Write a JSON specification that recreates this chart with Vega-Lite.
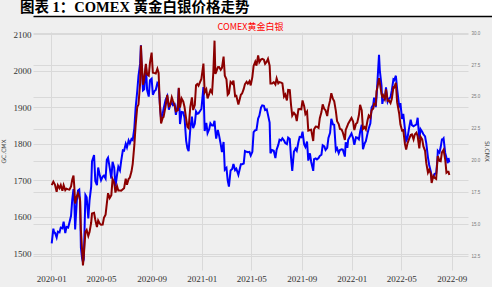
{
  "$schema": "https://vega.github.io/schema/vega-lite/v6.json",
  "background": "#efefef",
  "padding": {"left": 0, "top": 0, "right": 0, "bottom": 4},
  "spacing": 7,
  "columns": 1,
  "align": "none",
  "bounds": "full",
  "config": {"view": {"stroke": null}},
  "concat": [
    {
      "width": 492,
      "height": 16,
      "view": {"fill": "white", "stroke": null},
      "data": {"values": [{"label": "图表 1：COMEX 黄金白银价格走势"}]},
      "mark": {"type": "text", "align": "left", "baseline": "middle", "dx": -13, "font": "Liberation Serif, Noto Sans CJK SC", "fontSize": 14.5, "fontWeight": "bold", "color": "#000000"},
      "encoding": {
        "x": {"datum": 0, "type": "quantitative", "scale": {"domain": [0, 1]}, "axis": {"orient": "bottom", "domain": true, "domainColor": "#000000", "domainWidth": 1.5, "ticks": false, "labels": false, "grid": false, "title": null}},
        "text": {"field": "label"}
      }
    },
    {
      "width": 435,
      "height": 238,
      "title": {"text": "COMEX黄金白银", "color": "#ff0000", "fontSize": 9, "font": "Noto Sans CJK SC", "fontWeight": "normal", "anchor": "middle", "offset": -2, "frame": "group"},
      "data": {"values": [
        {"date":"2020-01-02","gold":1528,"silver":18.07},
        {"date":"2020-01-06","gold":1568,"silver":18.35},
        {"date":"2020-01-08","gold":1557,"silver":18.23},
        {"date":"2020-01-10","gold":1557,"silver":18.10},
        {"date":"2020-01-14","gold":1544,"silver":17.55},
        {"date":"2020-01-17","gold":1560,"silver":18.07},
        {"date":"2020-01-21","gold":1558,"silver":17.84},
        {"date":"2020-01-24","gold":1571,"silver":18.08},
        {"date":"2020-01-28","gold":1569,"silver":17.63},
        {"date":"2020-01-31","gold":1587,"silver":18.07},
        {"date":"2020-02-04","gold":1556,"silver":17.68},
        {"date":"2020-02-07","gold":1573,"silver":17.80},
        {"date":"2020-02-11","gold":1571,"silver":17.74},
        {"date":"2020-02-14","gold":1584,"silver":17.72},
        {"date":"2020-02-18","gold":1603,"silver":17.98},
        {"date":"2020-02-21","gold":1648,"silver":18.52},
        {"date":"2020-02-24","gold":1676,"silver":18.83},
        {"date":"2020-02-26","gold":1643,"silver":17.94},
        {"date":"2020-02-28","gold":1566,"silver":16.63},
        {"date":"2020-03-03","gold":1644,"silver":17.18},
        {"date":"2020-03-06","gold":1672,"silver":17.43},
        {"date":"2020-03-09","gold":1675,"silver":17.16},
        {"date":"2020-03-11","gold":1642,"silver":16.89},
        {"date":"2020-03-13","gold":1516,"silver":14.51},
        {"date":"2020-03-16","gold":1486,"silver":12.93},
        {"date":"2020-03-18","gold":1477,"silver":11.77},
        {"date":"2020-03-20","gold":1484,"silver":12.52},
        {"date":"2020-03-24","gold":1660,"silver":14.40},
        {"date":"2020-03-27","gold":1654,"silver":14.55},
        {"date":"2020-03-31","gold":1596,"silver":14.08},
        {"date":"2020-04-03","gold":1645,"silver":14.39},
        {"date":"2020-04-07","gold":1683,"silver":15.14},
        {"date":"2020-04-09","gold":1752,"silver":15.84},
        {"date":"2020-04-14","gold":1769,"silver":15.90},
        {"date":"2020-04-17","gold":1698,"silver":15.36},
        {"date":"2020-04-21","gold":1687,"silver":14.78},
        {"date":"2020-04-24","gold":1735,"silver":15.30},
        {"date":"2020-04-28","gold":1713,"silver":15.05},
        {"date":"2020-05-01","gold":1700,"silver":14.96},
        {"date":"2020-05-05","gold":1710,"silver":14.97},
        {"date":"2020-05-08","gold":1713,"silver":15.50},
        {"date":"2020-05-12","gold":1705,"silver":15.76},
        {"date":"2020-05-15","gold":1756,"silver":16.62},
        {"date":"2020-05-18","gold":1762,"silver":17.44},
        {"date":"2020-05-22","gold":1735,"silver":17.06},
        {"date":"2020-05-26","gold":1705,"silver":17.29},
        {"date":"2020-05-29","gold":1751,"silver":18.55},
        {"date":"2020-06-02","gold":1735,"silver":18.28},
        {"date":"2020-06-05","gold":1683,"silver":17.49},
        {"date":"2020-06-09","gold":1716,"silver":17.99},
        {"date":"2020-06-12","gold":1737,"silver":17.66},
        {"date":"2020-06-16","gold":1727,"silver":17.66},
        {"date":"2020-06-19","gold":1753,"silver":17.64},
        {"date":"2020-06-23","gold":1782,"silver":17.75},
        {"date":"2020-06-26","gold":1781,"silver":17.83},
        {"date":"2020-06-30","gold":1800,"silver":18.58},
        {"date":"2020-07-03","gold":1790,"silver":18.10},
        {"date":"2020-07-07","gold":1809,"silver":18.55},
        {"date":"2020-07-10","gold":1801,"silver":18.67},
        {"date":"2020-07-14","gold":1813,"silver":19.14},
        {"date":"2020-07-17","gold":1810,"silver":19.75},
        {"date":"2020-07-21","gold":1843,"silver":21.23},
        {"date":"2020-07-24","gold":1897,"silver":22.73},
        {"date":"2020-07-28","gold":1944,"silver":24.20},
        {"date":"2020-07-31","gold":1985,"silver":24.40},
        {"date":"2020-08-04","gold":2019,"silver":26.04},
        {"date":"2020-08-06","gold":2069,"silver":29.04},
        {"date":"2020-08-07","gold":2028,"silver":28.29},
        {"date":"2020-08-11","gold":1946,"silver":25.96},
        {"date":"2020-08-14","gold":1949,"silver":26.43},
        {"date":"2020-08-18","gold":2013,"silver":27.59},
        {"date":"2020-08-21","gold":1947,"silver":26.77},
        {"date":"2020-08-25","gold":1929,"silver":26.67},
        {"date":"2020-08-28","gold":1974,"silver":27.69},
        {"date":"2020-09-01","gold":1978,"silver":28.48},
        {"date":"2020-09-04","gold":1934,"silver":26.90},
        {"date":"2020-09-08","gold":1944,"silver":26.87},
        {"date":"2020-09-11","gold":1947,"silver":26.84},
        {"date":"2020-09-15","gold":1966,"silver":27.21},
        {"date":"2020-09-18","gold":1962,"silver":26.89},
        {"date":"2020-09-21","gold":1910,"silver":24.40},
        {"date":"2020-09-24","gold":1868,"silver":22.92},
        {"date":"2020-09-28","gold":1882,"silver":23.36},
        {"date":"2020-09-30","gold":1895,"silver":23.42},
        {"date":"2020-10-05","gold":1920,"silver":24.28},
        {"date":"2020-10-09","gold":1930,"silver":25.17},
        {"date":"2020-10-13","gold":1893,"silver":24.27},
        {"date":"2020-10-16","gold":1906,"silver":24.33},
        {"date":"2020-10-20","gold":1913,"silver":24.97},
        {"date":"2020-10-23","gold":1905,"silver":24.68},
        {"date":"2020-10-27","gold":1908,"silver":24.33},
        {"date":"2020-10-30","gold":1879,"silver":23.88},
        {"date":"2020-11-04","gold":1910,"silver":23.97},
        {"date":"2020-11-06","gold":1951,"silver":25.71},
        {"date":"2020-11-09","gold":1854,"silver":24.16},
        {"date":"2020-11-13","gold":1887,"silver":24.88},
        {"date":"2020-11-17","gold":1886,"silver":24.64},
        {"date":"2020-11-20","gold":1871,"silver":24.21},
        {"date":"2020-11-24","gold":1808,"silver":23.28},
        {"date":"2020-11-27","gold":1788,"silver":22.65},
        {"date":"2020-11-30","gold":1780,"silver":22.55},
        {"date":"2020-12-04","gold":1840,"silver":24.20},
        {"date":"2020-12-08","gold":1874,"silver":24.97},
        {"date":"2020-12-11","gold":1843,"silver":23.97},
        {"date":"2020-12-15","gold":1855,"silver":24.36},
        {"date":"2020-12-18","gold":1888,"silver":25.93},
        {"date":"2020-12-21","gold":1882,"silver":26.02},
        {"date":"2020-12-24","gold":1883,"silver":25.88},
        {"date":"2020-12-31","gold":1895,"silver":26.41},
        {"date":"2021-01-05","gold":1955,"silver":27.62},
        {"date":"2021-01-08","gold":1835,"silver":25.36},
        {"date":"2021-01-12","gold":1857,"silver":25.59},
        {"date":"2021-01-15","gold":1829,"silver":24.89},
        {"date":"2021-01-19","gold":1840,"silver":25.24},
        {"date":"2021-01-22","gold":1856,"silver":25.53},
        {"date":"2021-01-26","gold":1850,"silver":25.32},
        {"date":"2021-01-29","gold":1850,"silver":26.91},
        {"date":"2021-02-01","gold":1863,"silver":29.42},
        {"date":"2021-02-03","gold":1835,"silver":26.81},
        {"date":"2021-02-05","gold":1814,"silver":26.95},
        {"date":"2021-02-09","gold":1838,"silver":27.34},
        {"date":"2021-02-12","gold":1823,"silver":27.35},
        {"date":"2021-02-16","gold":1799,"silver":27.13},
        {"date":"2021-02-19","gold":1777,"silver":27.28},
        {"date":"2021-02-23","gold":1805,"silver":28.17},
        {"date":"2021-02-26","gold":1729,"silver":26.67},
        {"date":"2021-03-02","gold":1734,"silver":26.38},
        {"date":"2021-03-05","gold":1700,"silver":25.17},
        {"date":"2021-03-08","gold":1683,"silver":25.29},
        {"date":"2021-03-12","gold":1727,"silver":26.18},
        {"date":"2021-03-16","gold":1731,"silver":26.04},
        {"date":"2021-03-19","gold":1745,"silver":26.29},
        {"date":"2021-03-23","gold":1728,"silver":25.06},
        {"date":"2021-03-26","gold":1732,"silver":25.09},
        {"date":"2021-03-31","gold":1715,"silver":24.41},
        {"date":"2021-04-06","gold":1744,"silver":25.17},
        {"date":"2021-04-09","gold":1744,"silver":25.27},
        {"date":"2021-04-13","gold":1746,"silver":25.63},
        {"date":"2021-04-16","gold":1780,"silver":26.01},
        {"date":"2021-04-20","gold":1778,"silver":26.19},
        {"date":"2021-04-23","gold":1777,"silver":26.04},
        {"date":"2021-04-27","gold":1778,"silver":26.24},
        {"date":"2021-04-30","gold":1768,"silver":25.91},
        {"date":"2021-05-04","gold":1778,"silver":26.58},
        {"date":"2021-05-07","gold":1832,"silver":27.43},
        {"date":"2021-05-11","gold":1837,"silver":27.76},
        {"date":"2021-05-14","gold":1838,"silver":27.46},
        {"date":"2021-05-18","gold":1869,"silver":28.27},
        {"date":"2021-05-21","gold":1877,"silver":27.73},
        {"date":"2021-05-25","gold":1899,"silver":27.94},
        {"date":"2021-05-28","gold":1905,"silver":27.99},
        {"date":"2021-06-01","gold":1904,"silver":27.93},
        {"date":"2021-06-04","gold":1892,"silver":27.60},
        {"date":"2021-06-08","gold":1894,"silver":27.77},
        {"date":"2021-06-11","gold":1879,"silver":27.99},
        {"date":"2021-06-15","gold":1858,"silver":27.45},
        {"date":"2021-06-17","gold":1774,"silver":26.06},
        {"date":"2021-06-21","gold":1783,"silver":26.06},
        {"date":"2021-06-25","gold":1781,"silver":26.16},
        {"date":"2021-06-29","gold":1761,"silver":25.98},
        {"date":"2021-07-02","gold":1784,"silver":26.46},
        {"date":"2021-07-06","gold":1797,"silver":26.07},
        {"date":"2021-07-09","gold":1811,"silver":26.17},
        {"date":"2021-07-13","gold":1809,"silver":26.13},
        {"date":"2021-07-16","gold":1815,"silver":26.07},
        {"date":"2021-07-20","gold":1809,"silver":25.04},
        {"date":"2021-07-23","gold":1802,"silver":25.20},
        {"date":"2021-07-27","gold":1799,"silver":24.72},
        {"date":"2021-07-30","gold":1817,"silver":25.55},
        {"date":"2021-08-03","gold":1813,"silver":25.53},
        {"date":"2021-08-06","gold":1763,"silver":24.38},
        {"date":"2021-08-09","gold":1726,"silver":23.53},
        {"date":"2021-08-13","gold":1778,"silver":23.75},
        {"date":"2021-08-17","gold":1787,"silver":23.58},
        {"date":"2021-08-20","gold":1781,"silver":23.11},
        {"date":"2021-08-24","gold":1805,"silver":24.04},
        {"date":"2021-08-27","gold":1819,"silver":24.05},
        {"date":"2021-08-31","gold":1818,"silver":24.03},
        {"date":"2021-09-03","gold":1833,"silver":24.72},
        {"date":"2021-09-07","gold":1798,"silver":24.27},
        {"date":"2021-09-10","gold":1791,"silver":23.66},
        {"date":"2021-09-14","gold":1806,"silver":23.85},
        {"date":"2021-09-17","gold":1754,"silver":22.35},
        {"date":"2021-09-21","gold":1774,"silver":22.40},
        {"date":"2021-09-24","gold":1751,"silver":22.43},
        {"date":"2021-09-29","gold":1726,"silver":21.54},
        {"date":"2021-10-01","gold":1758,"silver":22.46},
        {"date":"2021-10-05","gold":1760,"silver":22.67},
        {"date":"2021-10-08","gold":1757,"silver":22.66},
        {"date":"2021-10-12","gold":1761,"silver":22.57},
        {"date":"2021-10-15","gold":1767,"silver":23.33},
        {"date":"2021-10-19","gold":1770,"silver":23.81},
        {"date":"2021-10-22","gold":1796,"silver":24.42},
        {"date":"2021-10-26","gold":1793,"silver":24.05},
        {"date":"2021-10-29","gold":1783,"silver":23.95},
        {"date":"2021-11-02","gold":1789,"silver":23.50},
        {"date":"2021-11-05","gold":1816,"silver":24.18},
        {"date":"2021-11-09","gold":1830,"silver":24.73},
        {"date":"2021-11-12","gold":1868,"silver":25.29},
        {"date":"2021-11-16","gold":1853,"silver":24.84},
        {"date":"2021-11-19","gold":1852,"silver":24.67},
        {"date":"2021-11-23","gold":1782,"silver":23.91},
        {"date":"2021-11-26","gold":1788,"silver":23.10},
        {"date":"2021-11-30","gold":1774,"silver":22.87},
        {"date":"2021-12-03","gold":1783,"silver":22.48},
        {"date":"2021-12-07","gold":1785,"silver":22.44},
        {"date":"2021-12-10","gold":1784,"silver":22.21},
        {"date":"2021-12-15","gold":1765,"silver":21.63},
        {"date":"2021-12-17","gold":1804,"silver":22.41},
        {"date":"2021-12-21","gold":1789,"silver":22.72},
        {"date":"2021-12-23","gold":1811,"silver":22.90},
        {"date":"2021-12-31","gold":1828,"silver":23.35},
        {"date":"2022-01-04","gold":1815,"silver":23.07},
        {"date":"2022-01-07","gold":1797,"silver":22.40},
        {"date":"2022-01-11","gold":1818,"silver":22.89},
        {"date":"2022-01-14","gold":1817,"silver":22.97},
        {"date":"2022-01-18","gold":1812,"silver":23.56},
        {"date":"2022-01-21","gold":1832,"silver":24.38},
        {"date":"2022-01-25","gold":1852,"silver":23.95},
        {"date":"2022-01-28","gold":1785,"silver":22.48},
        {"date":"2022-02-01","gold":1801,"silver":22.63},
        {"date":"2022-02-04","gold":1807,"silver":22.45},
        {"date":"2022-02-08","gold":1828,"silver":23.15},
        {"date":"2022-02-11","gold":1842,"silver":23.54},
        {"date":"2022-02-15","gold":1856,"silver":23.37},
        {"date":"2022-02-18","gold":1899,"silver":23.95},
        {"date":"2022-02-22","gold":1907,"silver":24.09},
        {"date":"2022-02-24","gold":1926,"silver":24.46},
        {"date":"2022-02-28","gold":1900,"silver":24.39},
        {"date":"2022-03-02","gold":1928,"silver":25.45},
        {"date":"2022-03-04","gold":1966,"silver":25.72},
        {"date":"2022-03-08","gold":2043,"silver":26.48},
        {"date":"2022-03-10","gold":2000,"silver":26.10},
        {"date":"2022-03-14","gold":1960,"silver":25.24},
        {"date":"2022-03-16","gold":1909,"silver":25.04},
        {"date":"2022-03-18","gold":1921,"silver":25.14},
        {"date":"2022-03-22","gold":1921,"silver":24.83},
        {"date":"2022-03-25","gold":1954,"silver":25.59},
        {"date":"2022-03-29","gold":1915,"silver":24.70},
        {"date":"2022-04-01","gold":1923,"silver":24.73},
        {"date":"2022-04-05","gold":1927,"silver":24.52},
        {"date":"2022-04-08","gold":1945,"silver":24.83},
        {"date":"2022-04-12","gold":1976,"silver":25.76},
        {"date":"2022-04-14","gold":1974,"silver":25.74},
        {"date":"2022-04-18","gold":1986,"silver":26.10},
        {"date":"2022-04-21","gold":1950,"silver":24.59},
        {"date":"2022-04-26","gold":1903,"silver":23.70},
        {"date":"2022-04-29","gold":1911,"silver":22.85},
        {"date":"2022-05-03","gold":1868,"silver":22.36},
        {"date":"2022-05-06","gold":1882,"silver":22.39},
        {"date":"2022-05-10","gold":1841,"silver":21.31},
        {"date":"2022-05-13","gold":1808,"silver":20.86},
        {"date":"2022-05-16","gold":1814,"silver":21.33},
        {"date":"2022-05-20","gold":1842,"silver":21.68},
        {"date":"2022-05-24","gold":1866,"silver":22.01},
        {"date":"2022-05-27","gold":1851,"silver":22.06},
        {"date":"2022-05-31","gold":1848,"silver":21.67},
        {"date":"2022-06-03","gold":1850,"silver":22.05},
        {"date":"2022-06-07","gold":1853,"silver":22.19},
        {"date":"2022-06-10","gold":1871,"silver":21.91},
        {"date":"2022-06-14","gold":1813,"silver":20.96},
        {"date":"2022-06-17","gold":1840,"silver":21.88},
        {"date":"2022-06-21","gold":1833,"silver":21.67},
        {"date":"2022-06-24","gold":1826,"silver":21.11},
        {"date":"2022-06-28","gold":1820,"silver":20.77},
        {"date":"2022-07-01","gold":1801,"silver":19.80},
        {"date":"2022-07-05","gold":1763,"silver":19.06},
        {"date":"2022-07-08","gold":1742,"silver":19.28},
        {"date":"2022-07-12","gold":1724,"silver":18.98},
        {"date":"2022-07-14","gold":1705,"silver":18.24},
        {"date":"2022-07-18","gold":1709,"silver":18.79},
        {"date":"2022-07-21","gold":1718,"silver":18.65},
        {"date":"2022-07-25","gold":1719,"silver":18.56},
        {"date":"2022-07-28","gold":1756,"silver":20.03},
        {"date":"2022-07-29","gold":1781,"silver":20.36},
        {"date":"2022-08-02","gold":1776,"silver":19.98},
        {"date":"2022-08-05","gold":1791,"silver":19.95},
        {"date":"2022-08-08","gold":1812,"silver":20.65},
        {"date":"2022-08-10","gold":1812,"silver":20.74},
        {"date":"2022-08-12","gold":1815,"silver":20.85},
        {"date":"2022-08-16","gold":1775,"silver":20.09},
        {"date":"2022-08-19","gold":1762,"silver":19.05},
        {"date":"2022-08-22","gold":1747,"silver":19.13},
        {"date":"2022-08-24","gold":1761,"silver":19.13},
        {"date":"2022-08-26","gold":1749,"silver":18.88}
      ]},
      "encoding": {
        "x": {
          "field": "date", "type": "temporal",
          "scale": {"domain": [{"year": 2019, "month": 11, "date": 17, "hours": 12}, {"year": 2022, "month": 10, "date": 10, "hours": 10}]},
          "axis": {
            "values": [
              {"year": 2020, "month": 1, "date": 1}, {"year": 2020, "month": 5, "date": 1}, {"year": 2020, "month": 9, "date": 1},
              {"year": 2021, "month": 1, "date": 1}, {"year": 2021, "month": 5, "date": 1}, {"year": 2021, "month": 9, "date": 1},
              {"year": 2022, "month": 1, "date": 1}, {"year": 2022, "month": 5, "date": 1}, {"year": 2022, "month": 9, "date": 1}
            ],
            "format": "%Y-%m", "labelFlush": false, "labelOverlap": false,
            "labelFont": "Liberation Serif", "labelFontSize": 9, "labelColor": "#333333", "labelPadding": 4,
            "domain": false, "ticks": false, "grid": true, "gridColor": "#d9d9d9", "gridWidth": 1, "title": null
          }
        }
      },
      "layer": [
        {
          "mark": {"type": "line", "color": "#0000ff", "strokeWidth": 2},
          "encoding": {
            "y": {
              "field": "gold", "type": "quantitative",
              "scale": {"domain": [1455, 2105.5], "zero": false, "nice": false},
              "axis": {
                "orient": "left", "values": [1500, 1600, 1700, 1800, 1900, 2000, 2100], "format": "d",
                "labelFont": "Liberation Serif", "labelFontSize": 9, "labelColor": "#333333", "labelPadding": 2,
                "domain": false, "ticks": false, "grid": true, "gridColor": "#d9d9d9", "gridWidth": 1,
                "title": "GC.CMX", "titleFont": "DejaVu Sans", "titleFontSize": 6, "titleFontWeight": "normal", "titleColor": "#444444", "titlePadding": 7
              }
            }
          }
        },
        {
          "mark": {"type": "line", "color": "#8b0000", "strokeWidth": 2},
          "encoding": {
            "y": {
              "field": "silver", "type": "quantitative",
              "scale": {"domain": [11.41, 30.1], "zero": false, "nice": false},
              "axis": {
                "orient": "right", "values": [12.5, 15, 17.5, 20, 22.5, 25, 27.5, 30], "format": ".1f",
                "labelFont": "Liberation Sans", "labelFontSize": 4.5, "labelColor": "#777777", "labelPadding": 3,
                "domain": false, "ticks": false, "grid": true, "gridColor": "#d9d9d9", "gridWidth": 1,
                "title": "SI.CMX", "titleFont": "DejaVu Sans", "titleFontSize": 6, "titleFontWeight": "normal", "titleColor": "#444444", "titlePadding": 4
              }
            }
          }
        }
      ],
      "resolve": {"scale": {"y": "independent"}, "axis": {"y": "independent"}}
    }
  ]
}
